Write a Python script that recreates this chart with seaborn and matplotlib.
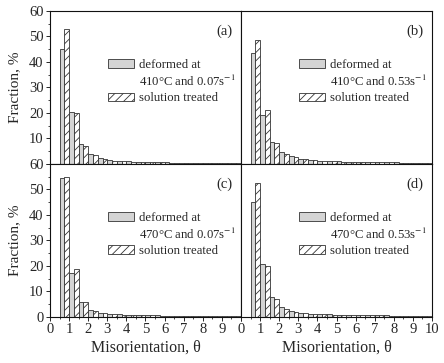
import matplotlib
matplotlib.use("Agg")
import matplotlib.pyplot as plt
from matplotlib.patches import Patch
from matplotlib.ticker import MultipleLocator
import seaborn as sns
import pandas as pd
import numpy as np

# bin centres of misorientation (0.5 wide bins from 0.5 to 10)
theta = [0.75, 1.25, 1.75, 2.25, 2.75, 3.25, 3.75, 4.25, 4.75, 5.25,
         5.75, 6.25, 6.75, 7.25, 7.75, 8.25, 8.75, 9.25, 9.75]

a_def = [45.2, 20.5, 7.9, 3.9, 2.4, 1.6, 1.2, 1.0, 0.9, 0.8, 0.7, 0.6, 0.5, 0.5, 0.4, 0.4, 0.3, 0.3, 0.2]
a_sol = [52.8, 19.9, 7.2, 3.5, 2.0, 1.3, 1.1, 0.9, 0.8, 0.7, 0.6, 0.5, 0.4, 0.4, 0.3, 0.3, 0.3, 0.2, 0.2]
b_def = [43.6, 19.1, 8.4, 4.5, 3.0, 2.1, 1.6, 1.3, 1.1, 1.0, 0.9, 0.8, 0.7, 0.7, 0.6, 0.6, 0.5, 0.5, 0.4]
b_sol = [48.7, 21.3, 8.0, 3.7, 2.5, 1.8, 1.4, 1.2, 1.0, 0.9, 0.8, 0.7, 0.7, 0.6, 0.6, 0.5, 0.5, 0.4, 0.4]
c_def = [54.6, 17.1, 5.8, 2.6, 1.6, 1.1, 0.9, 0.7, 0.6, 0.5, 0.5, 0.4, 0.4, 0.3, 0.3, 0.3, 0.2, 0.2, 0.2]
c_sol = [55.0, 18.7, 5.8, 2.4, 1.5, 1.0, 0.8, 0.7, 0.6, 0.5, 0.4, 0.4, 0.3, 0.3, 0.3, 0.2, 0.2, 0.2, 0.1]
d_def = [45.0, 20.7, 7.7, 3.9, 2.3, 1.6, 1.2, 1.0, 0.9, 0.8, 0.7, 0.6, 0.6, 0.5, 0.5, 0.4, 0.4, 0.4, 0.3]
d_sol = [52.5, 19.9, 6.8, 3.2, 1.9, 1.3, 1.1, 0.9, 0.8, 0.7, 0.6, 0.6, 0.5, 0.5, 0.4, 0.4, 0.3, 0.3, 0.3]

panel_tags = ["(a)", "(b)", "(c)", "(d)"]
conditions = ["410°C and 0.07s$^{-1}$", "410°C and 0.53s$^{-1}$",
              "470°C and 0.07s$^{-1}$", "470°C and 0.53s$^{-1}$"]
deformed = [a_def, b_def, c_def, d_def]
solution = [a_sol, b_sol, c_sol, d_sol]

x_ticks = list(range(0, 11))
y_ticks = list(range(0, 61, 10))

sns.set_style("ticks")
plt.rcParams["font.family"] = ["Liberation Serif", "DejaVu Serif"]
plt.rcParams["mathtext.fontset"] = "stix"
plt.rcParams["hatch.linewidth"] = 0.6

gray = "#d4d4d4"
edge = "#333333"

fig, axes = plt.subplots(2, 2, figsize=(4.44, 3.63), dpi=100)
fig.subplots_adjust(left=0.1126, right=0.973, top=0.9697, bottom=0.1275, wspace=0, hspace=0)

for i, ax in enumerate(axes.flat):
    df = pd.DataFrame({
        "theta": theta * 2,
        "fraction": deformed[i] + solution[i],
        "kind": ["def"] * len(theta) + ["sol"] * len(theta),
    })
    sns.barplot(data=df, x="theta", y="fraction", hue="kind", native_scale=True,
                width=1.0, gap=0, palette={"def": gray, "sol": "white"},
                saturation=1, edgecolor=edge, linewidth=0.6, errorbar=None,
                legend=False, ax=ax)
    for bar in ax.containers[1]:
        bar.set_hatch("////")

    ax.set_xlim(0, 10)
    ax.set_ylim(0, 60)
    ax.set_xticks(x_ticks)
    ax.xaxis.set_minor_locator(MultipleLocator(0.5))
    ax.set_yticks(y_ticks)
    ax.yaxis.set_minor_locator(MultipleLocator(5))
    for s in ax.spines.values():
        s.set_visible(True)
        s.set_linewidth(0.8)
        s.set_color("#111111")
    ax.tick_params(which="major", direction="out", length=3, width=0.7, labelsize=10.5, pad=1.5)
    ax.tick_params(which="minor", direction="out", length=1.5, width=0.6)
    ax.set_xlabel("")
    ax.set_ylabel("")

    ax.text(0.955, 0.865, panel_tags[i], transform=ax.transAxes, ha="right",
            va="center", fontsize=10.5)

    handles = [Patch(facecolor=gray, edgecolor=edge, linewidth=0.6),
               Patch(facecolor="none", edgecolor="none"),
               Patch(facecolor="white", edgecolor=edge, linewidth=0.6, hatch="////")]
    labels = ["deformed at", conditions[i], "solution treated"]
    ax.legend(handles, labels, loc="upper left", bbox_to_anchor=(0.255, 0.745),
              frameon=False, fontsize=9.2, handlelength=2.1, handleheight=0.68,
              handletextpad=0.35, labelspacing=0.25, borderpad=0.2)

# ticks / labels per position
for ax in axes[0, :]:
    ax.tick_params(axis="x", which="both", bottom=False, labelbottom=False)
for ax in axes[:, 1]:
    ax.tick_params(axis="y", which="both", left=False, labelleft=False)

axes[0, 0].set_yticklabels([str(t) if t > 0 else "" for t in y_ticks])
axes[1, 0].set_yticklabels([str(t) for t in y_ticks])
axes[1, 0].set_xticklabels([str(t) if t < 10 else "" for t in x_ticks])
axes[1, 1].set_xticklabels([str(t) for t in x_ticks])

for ax in axes[:, 0]:
    ax.set_ylabel("Fraction, %", fontsize=11, labelpad=6)
for ax in axes[1, :]:
    ax.set_xlabel("Misorientation, θ", fontsize=11.5, labelpad=2.5)

fig.savefig("out.png", dpi=100)
